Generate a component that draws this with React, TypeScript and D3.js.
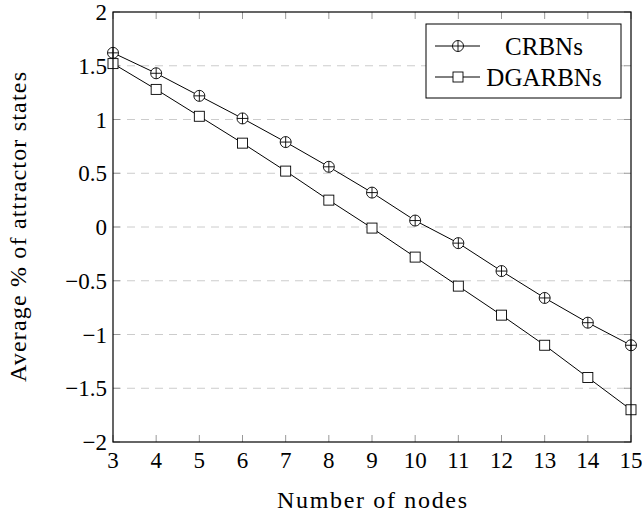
import React from 'react';
import * as d3 from 'd3';

const nodes = [3, 4, 5, 6, 7, 8, 9, 10, 11, 12, 13, 14, 15];
const crbns = [1.62, 1.43, 1.22, 1.01, 0.79, 0.56, 0.32, 0.06, -0.15, -0.41, -0.66, -0.89, -1.1];
const dgarbns = [1.52, 1.28, 1.03, 0.78, 0.52, 0.25, -0.01, -0.28, -0.55, -0.82, -1.1, -1.4, -1.7];
const yTicks = [-2, -1.5, -1, -0.5, 0, 0.5, 1, 1.5, 2];
const seriesNames = ['CRBNs', 'DGARBNs'];

const W = 642;
const H = 514;
const M = { top: 12, right: 11, bottom: 72, left: 113 };
const FONT = '"Liberation Serif", "DejaVu Serif", serif';
const TICK_LEN = 7;

const fmt = (v: number) => (v < 0 ? '\u2212' + String(-v) : String(v));

function Marker({ kind, x, y }: { kind: string; x: number; y: number }) {
  if (kind === 'circle') {
    const r = 5.5;
    return (
      <g>
        <circle cx={x} cy={y} r={r} fill="white" stroke="black" strokeWidth={0.9} />
        <line x1={x - r} x2={x + r} y1={y} y2={y} stroke="black" strokeWidth={0.9} />
        <line x1={x} x2={x} y1={y - r} y2={y + r} stroke="black" strokeWidth={0.9} />
      </g>
    );
  }
  const s = 5;
  return <rect x={x - s} y={y - s} width={2 * s} height={2 * s} fill="white" stroke="black" strokeWidth={0.9} />;
}

export default function App() {
  const innerW = W - M.left - M.right;
  const innerH = H - M.top - M.bottom;
  const x = d3.scaleLinear().domain([3, 15]).range([0, innerW]);
  const y = d3.scaleLinear().domain([-2, 2]).range([innerH, 0]);

  const line = d3
    .line<number>()
    .x((_, i) => x(nodes[i]))
    .y((d) => y(d));

  const series = [
    { name: seriesNames[0], values: crbns, marker: 'circle' },
    { name: seriesNames[1], values: dgarbns, marker: 'square' },
  ];

  // legend box, north east like pgfplots
  const legW = 195;
  const legH = 74;
  const legX = innerW - 10 - legW;
  const legY = 12;

  return (
    <svg width={W} height={H} style={{ position: 'absolute', left: 0, top: 0, background: 'white' }} fontFamily={FONT}>
      <g transform={`translate(${M.left},${M.top})`}>
        {/* dashed grid */}
        {yTicks
          .filter((t) => t > -2 && t < 2)
          .map((t) => (
            <line key={'g' + t} x1={0} x2={innerW} y1={y(t)} y2={y(t)} stroke="#cccccc" strokeWidth={1} strokeDasharray="8,6" />
          ))}

        {/* inward ticks */}
        {nodes.map((n) => (
          <g key={'xt' + n} stroke="#999" strokeWidth={1}>
            <line x1={x(n)} x2={x(n)} y1={innerH} y2={innerH - TICK_LEN} />
            <line x1={x(n)} x2={x(n)} y1={0} y2={TICK_LEN} />
          </g>
        ))}
        {yTicks.map((t) => (
          <g key={'yt' + t} stroke="#999" strokeWidth={1}>
            <line x1={0} x2={TICK_LEN} y1={y(t)} y2={y(t)} />
            <line x1={innerW} x2={innerW - TICK_LEN} y1={y(t)} y2={y(t)} />
          </g>
        ))}

        {/* series */}
        {series.map((s) => (
          <g key={s.name}>
            <path d={line(s.values) || ''} fill="none" stroke="black" strokeWidth={1} />
            {s.values.map((v, i) => (
              <Marker key={i} kind={s.marker} x={x(nodes[i])} y={y(v)} />
            ))}
          </g>
        ))}

        {/* frame */}
        <rect x={0} y={0} width={innerW} height={innerH} fill="none" stroke="black" strokeWidth={1.2} />

        {/* tick labels */}
        {nodes.map((n) => (
          <text key={'xl' + n} x={x(n)} y={innerH + 26} textAnchor="middle" fontSize={23}>
            {n}
          </text>
        ))}
        {yTicks.map((t) => (
          <text key={'yl' + t} x={-6} y={y(t)} dy="0.35em" textAnchor="end" fontSize={23}>
            {fmt(t)}
          </text>
        ))}

        {/* legend */}
        <g transform={`translate(${legX},${legY})`}>
          <rect x={0} y={0} width={legW} height={legH} fill="white" stroke="black" strokeWidth={1} />
          {series.map((s, i) => {
            const cy = 22 + i * 31;
            return (
              <g key={'lg' + s.name}>
                <line x1={9} x2={54} y1={cy} y2={cy} stroke="black" strokeWidth={1} />
                <Marker kind={s.marker} x={32} y={cy} />
                <text x={118} y={cy} dy="0.35em" textAnchor="middle" fontSize={25}>
                  {s.name}
                </text>
              </g>
            );
          })}
        </g>

        {/* axis labels */}
        <text x={innerW / 2} y={innerH + 66} textAnchor="middle" fontSize={24} textLength={190} lengthAdjust="spacing">
          Number of nodes
        </text>
        <text
          transform={`translate(${-M.left + 26},${innerH / 2}) rotate(-90)`}
          textAnchor="middle"
          fontSize={24}
          textLength={310}
          lengthAdjust="spacing"
        >
          Average % of attractor states
        </text>
      </g>
    </svg>
  );
}
